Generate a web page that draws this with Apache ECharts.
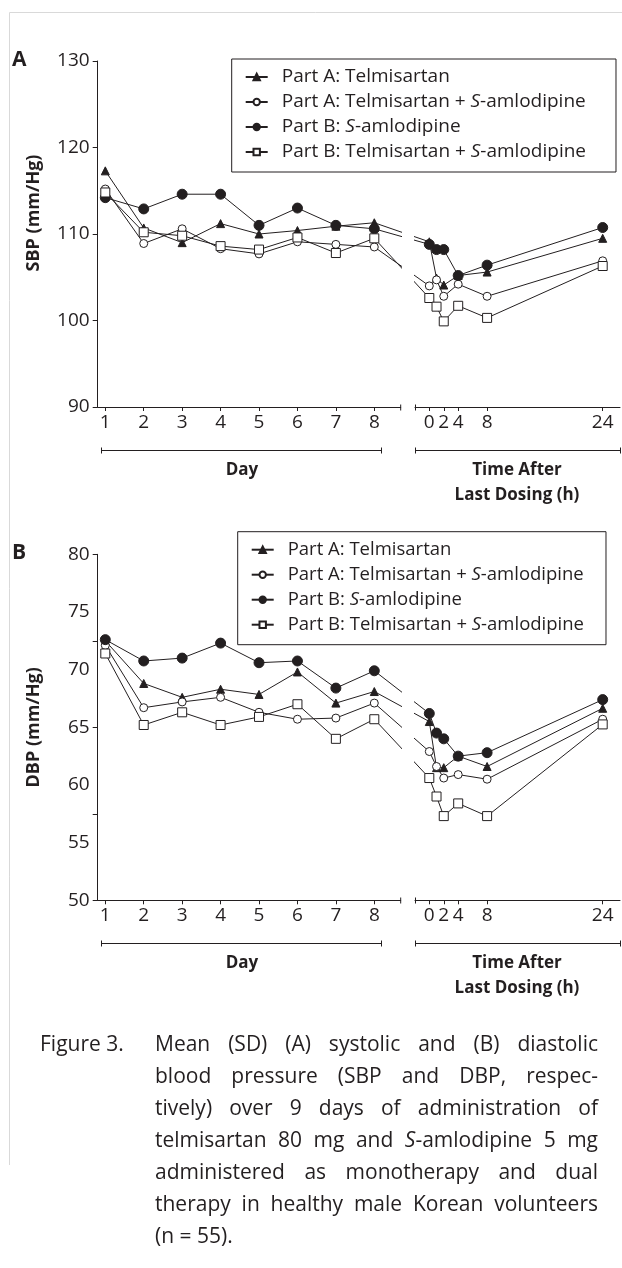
<!DOCTYPE html>
<html>
<head>
<meta charset="utf-8">
<script src="https://cdn.jsdelivr.net/npm/echarts@6/dist/echarts.min.js"></script>
<style>
  html, body { margin: 0; padding: 0; background: #fff; }
  #chart { position: absolute; left: 0; top: 0; width: 622px; height: 1268px; }
  .cap { position: absolute; font-family: "Open Sans", sans-serif; font-size: 21px; color: #231f20; line-height: 32px; }
  #capLabel { left: 40px; top: 1027px; }
  #capText { left: 155px; top: 1027px; width: 443px; }
  #capText div { text-align: justify; text-align-last: justify; white-space: nowrap; }
  #capText div.last { text-align-last: left; }
</style>
</head>
<body>
<div id="chart"></div>
<div class="cap" id="capLabel">Figure 3.</div>
<div class="cap" id="capText">
  <div>Mean (SD) (A) systolic and (B) diastolic</div>
  <div>blood pressure (SBP and DBP, respec-</div>
  <div>tively) over 9 days of administration of</div>
  <div>telmisartan 80 mg and <i>S</i>-amlodipine 5 mg</div>
  <div>administered as monotherapy and dual</div>
  <div>therapy in healthy male Korean volunteers</div>
  <div class="last">(n = 55).</div>
</div>
<script>
// categories / ticks
const days = [1, 2, 3, 4, 5, 6, 7, 8];
const hours = [0, 1, 2, 4, 8, 24];
const hourTicks = [0, 2, 4, 8, 24];
const names = [
  'Part A: Telmisartan',
  'Part A: Telmisartan + S-amlodipine',
  'Part B: S-amlodipine',
  'Part B: Telmisartan + S-amlodipine'
];
const sbpLabels = [90, 100, 110, 120, 130];
const dbpLabels = [50, 55, 60, 65, 70, 75, 80];
const dbpTicks = [50, 57.5, 65, 72.5, 80];

// SBP, by day
const sbpTelDay = [117.3, 110.7, 109.0, 111.2, 110.0, 110.4, 110.9, 111.3];
const sbpTelAmlDay = [115.2, 108.9, 110.6, 108.3, 107.7, 109.1, 108.8, 108.5];
const sbpAmlDay = [114.2, 112.9, 114.6, 114.6, 111.0, 113.0, 111.0, 110.6];
const sbpBTelAmlDay = [114.8, 110.2, 109.8, 108.6, 108.2, 109.6, 107.8, 109.5];
// SBP, hours after last dose
const sbpTelHr = [109.1, 104.9, 104.1, 105.2, 105.6, 109.5];
const sbpTelAmlHr = [104.0, 104.7, 102.8, 104.2, 102.8, 106.9];
const sbpAmlHr = [108.8, 108.2, 108.2, 105.2, 106.4, 110.75];
const sbpBTelAmlHr = [102.6, 101.6, 99.9, 101.7, 100.3, 106.3];

// DBP, by day
const dbpTelDay = [72.5, 68.8, 67.6, 68.3, 67.85, 69.8, 67.1, 68.1];
const dbpTelAmlDay = [72.1, 66.7, 67.2, 67.6, 66.3, 65.7, 65.8, 67.1];
const dbpAmlDay = [72.6, 70.75, 71.0, 72.3, 70.6, 70.75, 68.4, 69.9];
const dbpBTelAmlDay = [71.4, 65.2, 66.3, 65.2, 65.9, 67.0, 64.0, 65.7];
// DBP, hours after last dose
const dbpTelHr = [65.5, 61.5, 61.5, 62.5, 61.6, 66.65];
const dbpTelAmlHr = [62.9, 61.6, 60.6, 60.9, 60.5, 65.7];
const dbpAmlHr = [66.2, 64.5, 64.0, 62.5, 62.8, 67.4];
const dbpBTelAmlHr = [60.6, 59.0, 57.3, 58.4, 57.3, 65.25];

const INK = '#231f20';
const FONT = '"Open Sans", sans-serif';

// layout of the broken x axis (pixels)
const X_DAY_L = 97.7, X_DAY_R = 400.7, DAY1_PX = 105.3, DAY_STEP = 38.43;
const X_HR_L = 415, X_HR_R = 620, HR0_PX = 429.3, HR_STEP = 7.225;
const PLOT_H = 346;

const dayMin = 1 - (DAY1_PX - X_DAY_L) / DAY_STEP;
const dayMax = 1 + (X_DAY_R - DAY1_PX) / DAY_STEP;
const hrMin = -(HR0_PX - X_HR_L) / HR_STEP;
const hrMax = (X_HR_R - HR0_PX) / HR_STEP;
// where the other segment's end point falls, so the joining line crosses the break
const hr0AsDay = 1 + (HR0_PX - DAY1_PX) / DAY_STEP;
const day8AsHr = (DAY1_PX + 7 * DAY_STEP - HR0_PX) / HR_STEP;

const marks = [
  { symbol: 'triangle', symbolSize: 8, fill: INK },
  { symbol: 'circle', symbolSize: 8, fill: '#fff' },
  { symbol: 'circle', symbolSize: 10, fill: INK },
  { symbol: 'rect', symbolSize: 9, fill: '#fff' }
];

function lineSeries(k, axisIdx, data) {
  return {
    type: 'line',
    name: names[k],
    xAxisIndex: axisIdx,
    yAxisIndex: axisIdx,
    data: data,
    symbol: marks[k].symbol,
    symbolSize: marks[k].symbolSize,
    showAllSymbol: true,
    clip: true,
    itemStyle: { color: marks[k].fill, borderColor: INK, borderWidth: 1 },
    lineStyle: { color: INK, width: 1 },
    emphasis: { disabled: true },
    z: 2 + k
  };
}

function panelSeries(dayArrs, hrArrs, base) {
  const out = [];
  dayArrs.forEach((vals, k) => {
    const hv = hrArrs[k];
    const dayData = days.map((d, i) => [d, vals[i]]);
    dayData.push({ value: [hr0AsDay, hv[0]], symbol: 'none' });
    const hrData = [{ value: [day8AsHr, vals[vals.length - 1]], symbol: 'none' }];
    hours.forEach((h, i) => hrData.push([h, hv[i]]));
    out.push(lineSeries(k, base, dayData));
    out.push(lineSeries(k, base + 1, hrData));
  });
  return out;
}

const labelStyle = { color: INK, fontFamily: FONT, fontSize: 19 };

function panelAxes(top, yMin, yMax, yLabels, yTicks, yName, namePad) {
  const grids = [
    { left: X_DAY_L, top: top, width: X_DAY_R - X_DAY_L, height: PLOT_H },
    { left: X_HR_L, top: top, width: X_HR_R - X_HR_L, height: PLOT_H }
  ];
  const xAxes = [
    {
      type: 'value', min: dayMin, max: dayMax, splitLine: { show: false },
      axisLine: { lineStyle: { color: INK, width: 1 } },
      axisTick: { customValues: days, length: 4, lineStyle: { color: INK } },
      axisLabel: Object.assign({ customValues: days, margin: 6 }, labelStyle)
    },
    {
      type: 'value', min: hrMin, max: hrMax, splitLine: { show: false },
      axisLine: { lineStyle: { color: INK, width: 1 } },
      axisTick: { customValues: hourTicks, length: 4, lineStyle: { color: INK } },
      axisLabel: Object.assign({ customValues: hourTicks, margin: 6 }, labelStyle)
    }
  ];
  const yAxes = [
    {
      type: 'value', min: yMin, max: yMax, splitLine: { show: false },
      axisLine: { show: true, lineStyle: { color: INK, width: 1 } },
      axisTick: { show: true, customValues: yTicks, length: 5, lineStyle: { color: INK } },
      axisLabel: Object.assign({ customValues: yLabels, margin: 8 }, labelStyle),
      name: yName, nameLocation: 'middle', nameRotate: 90, nameGap: 55,
      nameTextStyle: { color: INK, fontFamily: FONT, fontSize: 18, fontWeight: 'bold', padding: namePad }
    },
    { type: 'value', min: yMin, max: yMax, show: false }
  ];
  return { grids, xAxes, yAxes };
}

const pA = panelAxes(61, 90, 130, sbpLabels, sbpLabels, 'SBP (mm/Hg)', [0, 0, 0, 42]);
const pB = panelAxes(554.3, 50, 80, dbpLabels, dbpTicks, 'DBP (mm/Hg)', [0, 0, 0, 0]);

function legendFor(left, top, size, padRight) {
  return {
    data: names,
    orient: 'vertical',
    left: left,
    top: top,
    padding: [8, padRight, 10, 13],
    borderColor: INK,
    borderWidth: 1,
    itemWidth: 22,
    itemHeight: 8,
    itemGap: 5,
    selectedMode: false,
    formatter: n => n.replace('S-amlodipine', '{i|S}-amlodipine'),
    textStyle: {
      color: INK, fontFamily: FONT, fontSize: size, lineHeight: 20, padding: [0, 0, 0, 9],
      rich: { i: { color: INK, fontFamily: FONT, fontSize: size, fontStyle: 'italic', lineHeight: 20 } }
    }
  };
}

function hLine(x1, y1, x2, y2, color) {
  return { type: 'line', silent: true, shape: { x1, y1, x2, y2 }, style: { stroke: color || INK, lineWidth: 1 } };
}
function txt(x, y, text, size, bold, align) {
  return {
    type: 'text', x, y, silent: true,
    style: { text, fill: INK, fontFamily: FONT, fontSize: size, fontWeight: bold ? 'bold' : 'normal', align: align || 'center', verticalAlign: 'middle' }
  };
}

function panelDecor(letter, top) {
  const base = Math.round(top + PLOT_H) + 0.5;
  const by = base + 43;
  return [
    txt(12, top - 1, letter, 21, true, 'left'),
    hLine(X_DAY_R, base - 3, X_DAY_R, base + 3),
    hLine(X_HR_L + 0.5, base - 3, X_HR_L + 0.5, base + 3),
    hLine(101.5, by, 381.5, by),
    hLine(101.5, by - 3, 101.5, by + 3),
    hLine(381.5, by - 3, 381.5, by + 3),
    hLine(415.5, by, 620.5, by),
    hLine(415.5, by - 3, 415.5, by + 3),
    hLine(620.5, by - 3, 620.5, by + 3),
    txt(242, base + 63, 'Day', 17, true),
    txt(517, base + 63, 'Time After', 17, true),
    txt(517, base + 88, 'Last Dosing (h)', 17, true)
  ];
}

const chart = echarts.init(document.getElementById('chart'), null, { renderer: 'canvas' });
chart.setOption({
  animation: false,
  backgroundColor: 'transparent',
  grid: pA.grids.concat(pB.grids),
  xAxis: pA.xAxes.concat(pB.xAxes).map((a, i) => Object.assign({ gridIndex: i }, a)),
  yAxis: pA.yAxes.concat(pB.yAxes).map((a, i) => Object.assign({ gridIndex: i }, a)),
  legend: [legendFor(231.7, 59, 19, 30), legendFor(237.7, 531.7, 18.5, 22)],
  series: panelSeries([sbpTelDay, sbpTelAmlDay, sbpAmlDay, sbpBTelAmlDay], [sbpTelHr, sbpTelAmlHr, sbpAmlHr, sbpBTelAmlHr], 0)
    .concat(panelSeries([dbpTelDay, dbpTelAmlDay, dbpAmlDay, dbpBTelAmlDay], [dbpTelHr, dbpTelAmlHr, dbpAmlHr, dbpBTelAmlHr], 2)),
  graphic: [
    hLine(9.5, 12.5, 622, 12.5, '#d9d9d9'),
    hLine(9.5, 12.5, 9.5, 1165, '#d9d9d9')
  ].concat(panelDecor('A', 61), panelDecor('B', 554.3))
});
</script>
</body>
</html>
